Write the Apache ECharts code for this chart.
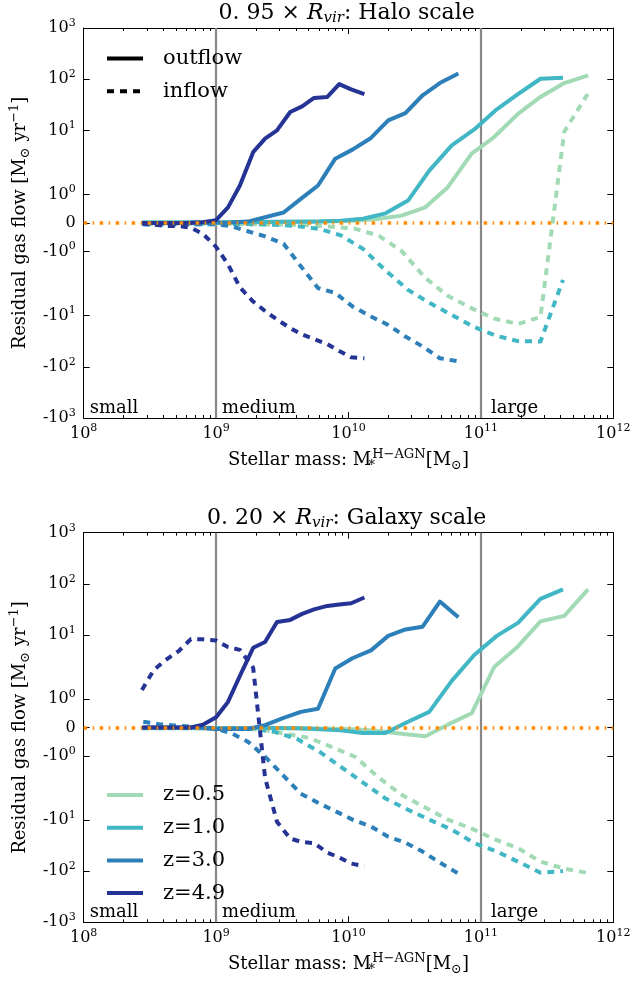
<!DOCTYPE html>
<html><head><meta charset="utf-8">
<script src="https://cdn.jsdelivr.net/npm/echarts@6/dist/echarts.min.js"></script>
<style>html,body{margin:0;padding:0;background:#fff}#c{width:635px;height:983px}</style>
</head><body><div id="c"></div><script>
// ---------------- data ----------------
const redshifts = ['z=0.5', 'z=1.0', 'z=3.0', 'z=4.9'];
const colors = ['#a1dab4', '#41b6c4', '#2c7fb8', '#253494'];

// log10 stellar mass bins for each redshift
const logM_z05 = [8.47, 8.65, 8.82, 9.00, 9.17, 9.35, 9.52, 9.70, 9.87, 10.05, 10.23, 10.40, 10.58, 10.75, 10.93, 11.10, 11.28, 11.45, 11.63, 11.81];
const logM_z10 = [8.44, 8.60, 8.77, 8.94, 9.11, 9.27, 9.44, 9.61, 9.78, 9.94, 10.11, 10.28, 10.45, 10.61, 10.78, 10.95, 11.12, 11.28, 11.45, 11.62];
const logM_z30 = [8.45, 8.58, 8.71, 8.85, 8.98, 9.11, 9.24, 9.37, 9.51, 9.64, 9.77, 9.90, 10.03, 10.17, 10.30, 10.43, 10.56, 10.69, 10.83];
const logM_z49 = [8.44, 8.53, 8.62, 8.72, 8.81, 8.90, 9.00, 9.09, 9.18, 9.28, 9.37, 9.46, 9.56, 9.65, 9.74, 9.84, 9.93, 10.02, 10.12];

// Halo scale (0.95 Rvir): residual outflow / inflow [Msun/yr]
const haloOut_z05 = [0.02, 0.02, 0.02, 0.02, 0.03, 0.03, 0.04, 0.05, 0.06, 0.08, 0.15, 0.26, 0.55, 1.26, 3.5, 7.4, 21, 45, 84, 119];
const haloIn_z05  = [-0.03, -0.03, -0.03, -0.03, -0.04, -0.05, -0.06, -0.08, -0.13, -0.2, -0.45, -0.98, -1.93, -4.1, -7.2, -11.4, -14.6, -10.6, 9.5, 53];
const haloOut_z10 = [0.02, 0.02, 0.02, 0.02, 0.03, 0.03, 0.04, 0.04, 0.05, 0.08, 0.15, 0.34, 0.79, 1.84, 5.1, 10.4, 25.8, 50.8, 102, 107];
const haloIn_z10  = [-0.03, -0.03, -0.03, -0.03, -0.03, -0.04, -0.06, -0.11, -0.21, -0.43, -0.91, -1.67, -3.14, -5.6, -9.7, -16.7, -25, -31.4, -32, -2.0];
const haloOut_z30 = [0, 0, 0, 0.01, 0.01, 0.02, 0.05, 0.2, 0.37, 0.85, 1.32, 2.8, 4.2, 7.1, 15.7, 21.8, 48.5, 84, 129];
const haloIn_z30  = [-0.05, -0.05, -0.05, -0.05, -0.04, -0.11, -0.29, -0.47, -0.73, -1.52, -2.9, -3.6, -6.6, -10.4, -15.2, -25.6, -40, -68, -78];
const haloOut_z49 = [0, 0, 0, 0, 0.01, 0.03, 0.1, 0.55, 1.32, 3.75, 6.9, 10, 22.8, 29.4, 43, 45, 80, 63, 51];
const haloIn_z49  = [-0.02, -0.06, -0.1, -0.11, -0.17, -0.38, -0.84, -1.45, -2.8, -5.3, -8.1, -11.9, -17.5, -23.4, -28.6, -36, -49, -65, -68];

// Galaxy scale (0.20 Rvir)
const galOut_z05 = [-0.02, -0.02, -0.02, -0.02, -0.02, -0.02, -0.03, -0.03, -0.04, -0.06, -0.12, -0.22, -0.31, 0.1, 0.5, 2.35, 5.96, 18.4, 23.6, 78];
const galIn_z05  = [-0.03, -0.03, -0.03, -0.03, -0.03, -0.08, -0.22, -0.36, -0.68, -1.03, -1.77, -3.2, -5.7, -9.8, -14.7, -23.6, -35.4, -65, -89, -109];
const galOut_z10 = [-0.02, -0.02, -0.02, -0.02, -0.02, -0.02, -0.02, -0.03, -0.06, -0.1, -0.19, -0.19, 0.2, 0.55, 1.64, 4.06, 9.6, 17.2, 50.6, 78];
const galIn_z10  = [-0.03, -0.03, -0.03, -0.03, -0.03, -0.05, -0.15, -0.4, -0.85, -1.38, -1.94, -3.8, -6.3, -9.8, -15.4, -28.2, -41.4, -65, -107, -100];
const galOut_z30 = [0, 0, 0, 0, -0.05, -0.05, -0.05, 0.08, 0.34, 0.55, 0.66, 2.2, 3.5, 5, 9.6, 12.8, 14.5, 45, 22.2];
const galIn_z30  = [0.2, 0.11, 0.06, 0.02, -0.02, -0.19, -0.5, -1.03, -1.7, -3.05, -4.6, -6.7, -9.8, -13.4, -21.2, -27.6, -41.4, -68, -111];
const galOut_z49 = [0, 0, 0, 0, 0, 0.095, 0.36, 0.9, 1.82, 5.6, 7.3, 18, 19.7, 25.8, 31.6, 37, 39.6, 41.7, 54];
const galIn_z49  = [1.32, 2.07, 3.25, 4.9, 8.3, 8.2, 7.8, 5.8, 5.1, 2.3, -1.77, -10.8, -23, -27, -28.2, -43.4, -54, -71, -80];

// ticks
const xTickVals = [8, 9, 10, 11, 12];
const xTickText = [['10', '8'], ['10', '9'], ['10', '10'], ['10', '11'], ['10', '12']];
const yTickVals = [-1000, -100, -10, -1, 0, 1, 10, 100, 1000];
const yTickText = [['-10', '3'], ['-10', '2'], ['-10', '1'], ['-10', '0'], ['0', ''], ['10', '0'], ['10', '1'], ['10', '2'], ['10', '3']];
const regionNames = ['small', 'medium', 'large'];
const regionEdges = [8, 9, 11];
const panelTitles = [['0. 95 × ', 'R', 'vir', ': Halo scale'], ['0. 20 × ', 'R', 'vir', ': Galaxy scale']];

// ---------------- symlog transform (linthresh 2, linscale 1) ----------------
const LT = 2, LS = 1 / (1 - 1 / 10);
function sl(v) { const a = Math.abs(v), s = v < 0 ? -1 : 1; return a <= LT ? s * a / LT * LS : s * (Math.log10(a / LT) + LS); }
const YM = sl(1000);
const yTickPos = yTickVals.map(sl);

const F = 'DejaVu Serif';
const grids = [
  { left: 80, top: 28, width: 533.3, height: 390 },
  { left: 80, top: 532.7, width: 533.3, height: 389.6 }
];
const minorX = [];
for (let n = 8; n < 12; n++) for (let k = 2; k <= 9; k++) minorX.push(n + Math.log10(k));

const tickRich = {
  b: { fontSize: 16, fontFamily: F, color: '#000' },
  s: { fontSize: 11, fontFamily: F, color: '#000', padding: [0, 0, 10, 0] }
};
const nameRich = {
  n: { fontSize: 18, fontFamily: F, color: '#000' },
  sub: { fontSize: 13, fontFamily: F, color: '#000', padding: [10, 0, 0, 0] },
  st: { fontSize: 13, fontFamily: F, color: '#000', padding: [10, 0, 0, 0], width: 1 },
  sup: { fontSize: 13, fontFamily: F, color: '#000', padding: [0, 0, 12, 0] }
};

const xAxes = [], yAxes = [];
grids.forEach((g, gi) => {
  const base = { type: 'value', gridIndex: gi, min: 8, max: 12, splitLine: { show: false } };
  xAxes.push(Object.assign({}, base, {
    position: 'bottom', interval: 1,
    axisLine: { show: true, onZero: false, lineStyle: { color: '#000', width: 1 } },
    axisTick: { show: true, inside: true, length: 6, lineStyle: { color: '#000' } },
    axisLabel: {
      margin: 5, showMinLabel: true, showMaxLabel: true, rich: tickRich,
      formatter: v => { const i = xTickVals.indexOf(Math.round(v)); return i < 0 ? '' : `{b|${xTickText[i][0]}}{s|${xTickText[i][1]}}`; }
    },
    name: '{n|Stellar mass: M}{st|*}{sup|H−AGN}{n|[M}{sub|⊙}{n|]}',
    nameLocation: 'middle', nameGap: 30, nameTextStyle: { rich: nameRich }
  }));
  xAxes.push(Object.assign({}, base, {
    position: 'bottom', axisLine: { show: false, onZero: false },
    axisTick: { show: true, inside: true, length: 3, customValues: minorX, lineStyle: { color: '#000' } },
    axisLabel: { show: false }
  }));
  xAxes.push(Object.assign({}, base, {
    position: 'top', interval: 1,
    axisLine: { show: true, onZero: false, lineStyle: { color: '#000', width: 1 } },
    axisTick: { show: true, inside: true, length: 6, lineStyle: { color: '#000' } },
    axisLabel: { show: false }
  }));
  xAxes.push(Object.assign({}, base, {
    position: 'top', axisLine: { show: false, onZero: false },
    axisTick: { show: true, inside: true, length: 3, customValues: minorX, lineStyle: { color: '#000' } },
    axisLabel: { show: false }
  }));
  const ybase = { type: 'value', gridIndex: gi, min: -YM, max: YM, splitLine: { show: false } };
  yAxes.push(Object.assign({}, ybase, {
    position: 'left',
    axisLine: { show: true, onZero: false, lineStyle: { color: '#000', width: 1 } },
    axisTick: { show: true, inside: true, length: 6, customValues: yTickPos, lineStyle: { color: '#000' } },
    axisLabel: {
      customValues: yTickPos, margin: 8, rich: tickRich,
      formatter: v => {
        const i = yTickPos.findIndex(p => Math.abs(p - v) < 1e-6);
        if (i < 0) return '';
        const t = yTickText[i];
        return t[1] ? `{b|${t[0]}}{s|${t[1]}}` : `{b|${t[0]}}`;
      }
    },
    name: '{n|Residual gas flow [M}{sub|⊙}{n| yr}{sup|−1}{n|]}',
    nameLocation: 'middle', nameRotate: 90, nameGap: 45, nameTextStyle: { rich: nameRich }
  }));
  yAxes.push(Object.assign({}, ybase, {
    position: 'right',
    axisLine: { show: true, onZero: false, lineStyle: { color: '#000', width: 1 } },
    axisTick: { show: true, inside: true, length: 6, customValues: yTickPos, lineStyle: { color: '#000' } },
    axisLabel: { show: false }
  }));
});

const sets = [
  { x: logM_z05, halo: [haloOut_z05, haloIn_z05], gal: [galOut_z05, galIn_z05] },
  { x: logM_z10, halo: [haloOut_z10, haloIn_z10], gal: [galOut_z10, galIn_z10] },
  { x: logM_z30, halo: [haloOut_z30, haloIn_z30], gal: [galOut_z30, galIn_z30] },
  { x: logM_z49, halo: [haloOut_z49, haloIn_z49], gal: [galOut_z49, galIn_z49] }
];

const series = [];
// reference lines (gray verticals under data)
grids.forEach((g, gi) => {
  series.push({
    type: 'line', xAxisIndex: gi * 4, yAxisIndex: gi * 2, data: [], silent: true,
    markLine: {
      silent: true, z: 1, symbol: ['none', 'none'], label: { show: false },
      lineStyle: { color: '#888888', width: 2.2, type: 'solid' },
      data: [{ xAxis: 9 }, { xAxis: 11 }]
    }
  });
});
grids.forEach((g, gi) => {
  const key = gi === 0 ? 'halo' : 'gal';
  sets.forEach((s, zi) => {
    const mk = (vals, dashed) => ({
      type: 'line', name: redshifts[zi], xAxisIndex: gi * 4, yAxisIndex: gi * 2,
      symbol: 'none', showSymbol: false, z: 3, silent: true,
      color: colors[zi],
      lineStyle: { color: colors[zi], width: 4, type: dashed ? [7, 6] : 'solid', cap: 'butt', join: 'round' },
      data: s.x.map((x, i) => [x, sl(vals[i])])
    });
    series.push(mk(s[key][0], false));
    series.push(mk(s[key][1], true));
  });
});
// legend-only style series
series.push({ type: 'line', name: 'outflow', xAxisIndex: 0, yAxisIndex: 0, data: [], symbol: 'none', color: '#000', lineStyle: { color: '#000', width: 4, type: 'solid' } });
series.push({ type: 'line', name: 'inflow', xAxisIndex: 0, yAxisIndex: 0, data: [], symbol: 'none', color: '#000', lineStyle: { color: '#000', width: 4, type: [7, 6], cap: 'butt' } });
// orange zero line on top
grids.forEach((g, gi) => {
  series.push({
    type: 'line', xAxisIndex: gi * 4, yAxisIndex: gi * 2, data: [], silent: true,
    markLine: {
      silent: true, z: 10, symbol: ['none', 'none'], label: { show: false },
      lineStyle: { color: '#ff8c00', width: 3.5, type: [3.5, 5.5, 1.5, 5.5], cap: 'butt' },
      data: [{ yAxis: 0 }]
    }
  });
});

const titleRich = {
  n: { fontSize: 22, fontFamily: F, fontWeight: 'normal', color: '#000' },
  i: { fontSize: 22, fontFamily: F, fontStyle: 'italic', fontWeight: 'normal', color: '#000' },
  is: { fontSize: 15, fontFamily: F, fontStyle: 'italic', fontWeight: 'normal', color: '#000', padding: [10, 0, 0, 0] }
};
const titles = grids.map((g, gi) => ({
  text: `{n|${panelTitles[gi][0]}}{i|${panelTitles[gi][1]}}{is|${panelTitles[gi][2]}}{n|${panelTitles[gi][3]}}`,
  left: g.left + g.width / 2, textAlign: 'center', top: g.top - 27, padding: 0,
  textStyle: { fontWeight: 'normal', fontFamily: F, rich: titleRich }
}));

const legendCommon = {
  orient: 'vertical', left: 100, itemWidth: 36, itemHeight: 14, itemGap: 10.7, selectedMode: false,
  textStyle: { fontFamily: F, fontSize: 21, color: '#000', lineHeight: 22, padding: [0, 0, 0, 15] },
  lineStyle: { width: 4 },
  itemStyle: { color: 'rgba(0,0,0,0)', borderWidth: 0, opacity: 0 }
};

const chart = echarts.init(document.getElementById('c'), null, { renderer: 'canvas' });
chart.setOption({
  animation: false,
  backgroundColor: '#fff',
  title: titles,
  grid: grids,
  xAxis: xAxes,
  yAxis: yAxes,
  legend: [
    Object.assign({}, legendCommon, { data: ['outflow', 'inflow'], top: 42.5 }),
    Object.assign({}, legendCommon, { data: redshifts, top: 779 })
  ],
  series: series
});

// region annotations
const gfx = [];
grids.forEach((g, gi) => {
  regionEdges.forEach((e, ri) => {
    const p = chart.convertToPixel({ xAxisIndex: gi * 4, yAxisIndex: gi * 2 }, [e, -YM]);
    gfx.push({
      type: 'text', x: p[0] + (ri === 2 ? 10 : 6), y: p[1] - 1, z: 20,
      style: { text: regionNames[ri], fontFamily: F, fontSize: 18, fill: '#000', verticalAlign: 'bottom', align: 'left' }
    });
  });
});
chart.setOption({ graphic: gfx });
</script></body></html>
